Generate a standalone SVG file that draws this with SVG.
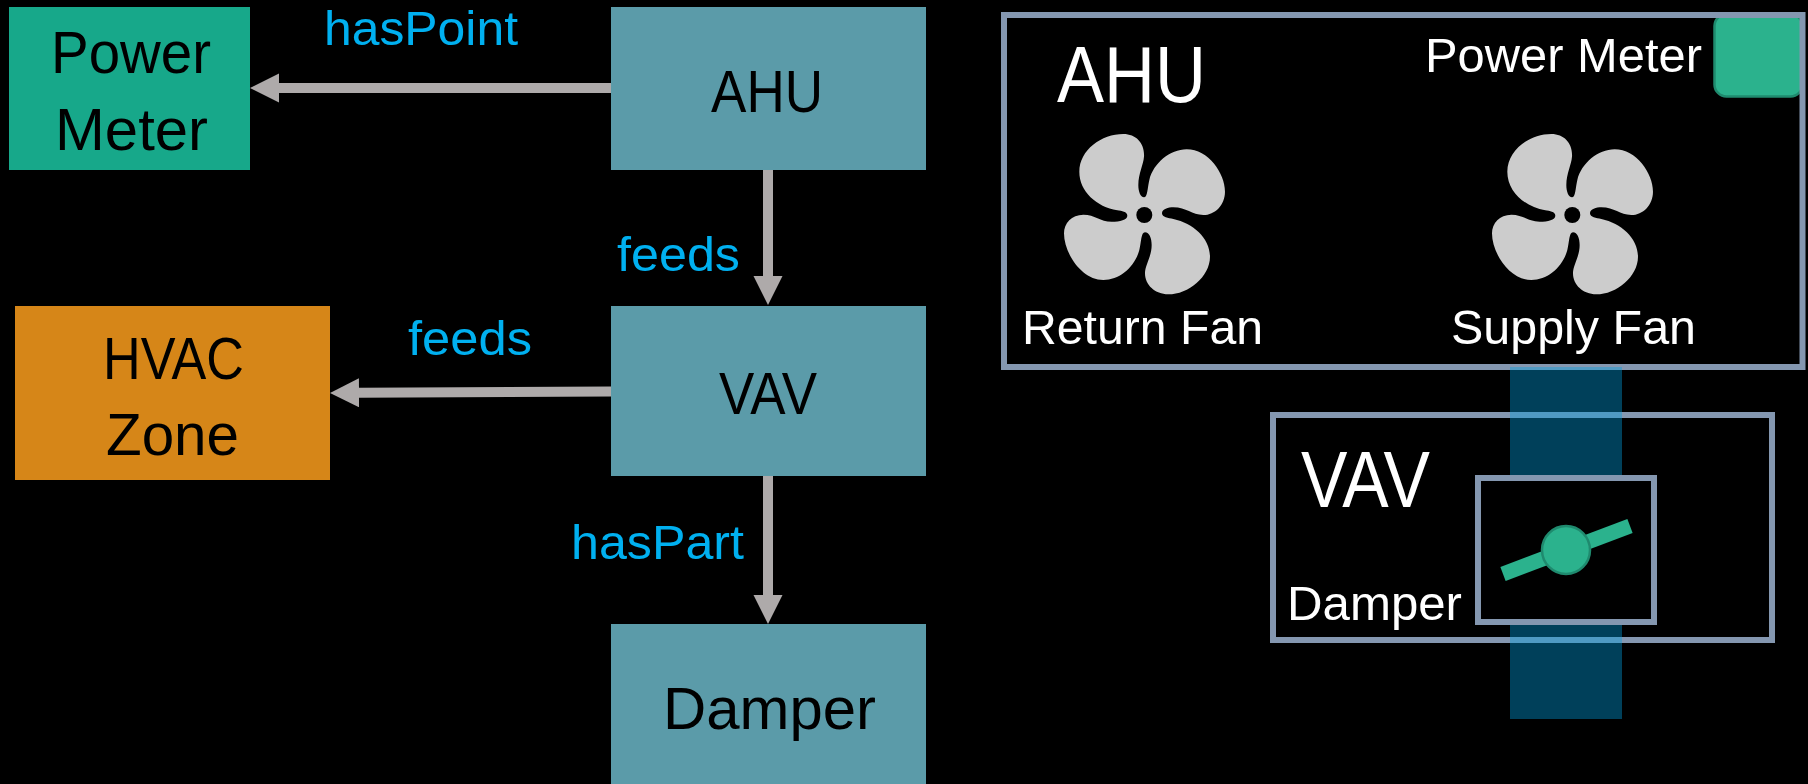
<svg xmlns="http://www.w3.org/2000/svg" xmlns:xlink="http://www.w3.org/1999/xlink" width="1808" height="784" viewBox="0 0 1808 784">
<style>
text{font-family:"Liberation Sans",Arial,sans-serif}
.n{fill:#5B9BA9}
.d{fill:#000;font-size:60px}
.l{fill:#00B0F0;font-size:49px}
.w{fill:#fff;font-size:49px}
.h{fill:#fff;font-size:80px}
.f{fill:none;stroke:#8497B0;stroke-width:6}
.c{fill:none;stroke:#AEAAAA;stroke-width:10}
.g{fill:#2BB28D;stroke:#1F8A6E;stroke-width:2.500}
</style>
<defs>
<marker id="a" markerUnits="userSpaceOnUse" markerWidth="30" markerHeight="30" refX="0" refY="14.5" orient="auto"><path d="M0 0L29 14.5L0 29Z" fill="#AEAAAA"/></marker>
<g id="fan"><path fill="#CCCCCC" d="M262 287C262 275 245 273 232 271C170 260 118 215 118 155C118 90 185 42 250 42C290 42 315 72 312 110C310 135 295 160 295 195C295 215 302 232 312 232C323 232 322 205 328 180C340 130 390 88 440 88C505 88 555 160 555 215C555 255 525 285 490 285C455 285 440 262 400 262C385 262 366 268 366 280C366 292 385 294 400 297C460 310 510 355 510 410C510 470 445 523 385 523C345 523 315 495 315 460C315 435 335 410 335 375C335 355 328 337 315 337C303 337 304 365 298 390C285 440 240 480 190 480C125 480 72 400 72 340C72 310 95 284 130 284C165 284 180 305 215 305C240 305 262 300 262 287Z" transform="scale(.3333)"/><circle cx="104.300" cy="95" r="8" fill="#000"/></g>
</defs>
<rect width="1808" height="784" fill="#000"/>
<g id="connectors">
<path class="c" d="M611 88H279" marker-end="url(#a)"/>
<path class="c" d="M768 170V276" marker-end="url(#a)"/>
<path class="c" d="M611 391.500L359 392.800" marker-end="url(#a)"/>
<path class="c" d="M768 476V595" marker-end="url(#a)"/>
<text class="l" x="324" y="45" textLength="194" lengthAdjust="spacingAndGlyphs">hasPoint</text>
<text class="l" x="617" y="271" textLength="123" lengthAdjust="spacingAndGlyphs">feeds</text>
<text class="l" x="408" y="355" textLength="124" lengthAdjust="spacingAndGlyphs">feeds</text>
<text class="l" x="571" y="559" textLength="173" lengthAdjust="spacingAndGlyphs">hasPart</text>
</g>
<g id="node-power-meter"><rect x="9" y="7" width="241" height="163" fill="#17A88A"/><text class="d" x="51" y="73" textLength="160" lengthAdjust="spacingAndGlyphs">Power</text><text class="d" x="55" y="150" textLength="153" lengthAdjust="spacingAndGlyphs">Meter</text></g>
<g id="node-ahu"><rect class="n" x="611" y="7" width="315" height="163"/><text class="d" x="711" y="112" textLength="112" lengthAdjust="spacingAndGlyphs">AHU</text></g>
<g id="node-vav"><rect class="n" x="611" y="306" width="315" height="170"/><text class="d" x="719" y="414" textLength="98" lengthAdjust="spacingAndGlyphs">VAV</text></g>
<g id="node-damper"><rect class="n" x="611" y="624" width="315" height="160"/><text class="d" x="663" y="729" textLength="213" lengthAdjust="spacingAndGlyphs">Damper</text></g>
<g id="node-hvac-zone"><rect x="15" y="306" width="315" height="174" fill="#D68618"/><text class="d" x="103" y="379" textLength="141" lengthAdjust="spacingAndGlyphs">HVAC</text><text class="d" x="106" y="455" textLength="133" lengthAdjust="spacingAndGlyphs">Zone</text></g>
<g id="plan-ahu">
<rect class="g" x="1714.500" y="14" width="88" height="82.500" rx="12"/>
<rect class="f" x="1004" y="15" width="798.500" height="352"/>
<text class="h" x="1057" y="102" textLength="149" lengthAdjust="spacingAndGlyphs">AHU</text>
<text class="w" x="1425" y="72" textLength="277" lengthAdjust="spacingAndGlyphs">Power Meter</text>
<use href="#fan" xlink:href="#fan" x="1040" y="120"/>
<use href="#fan" xlink:href="#fan" x="1468" y="120"/>
<text class="w" x="1022" y="344" textLength="241" lengthAdjust="spacingAndGlyphs">Return Fan</text>
<text class="w" x="1451" y="344" textLength="245" lengthAdjust="spacingAndGlyphs">Supply Fan</text>
</g>
<g id="plan-vav">
<rect class="f" x="1273" y="415" width="499" height="225"/>
<rect x="1510" y="367" width="112" height="352" fill="#00A0E0" fill-opacity=".4"/>
<rect class="f" x="1478" y="478" width="176" height="144" style="fill:#000"/>
<text class="h" x="1301" y="507" textLength="129" lengthAdjust="spacingAndGlyphs">VAV</text>
<text class="w" x="1287" y="620" textLength="175" lengthAdjust="spacingAndGlyphs">Damper</text>
<path d="M1503 574L1630 526" stroke="#2BB28D" stroke-width="15" fill="none"/>
<circle class="g" cx="1566" cy="550" r="24"/>
</g>
</svg>
